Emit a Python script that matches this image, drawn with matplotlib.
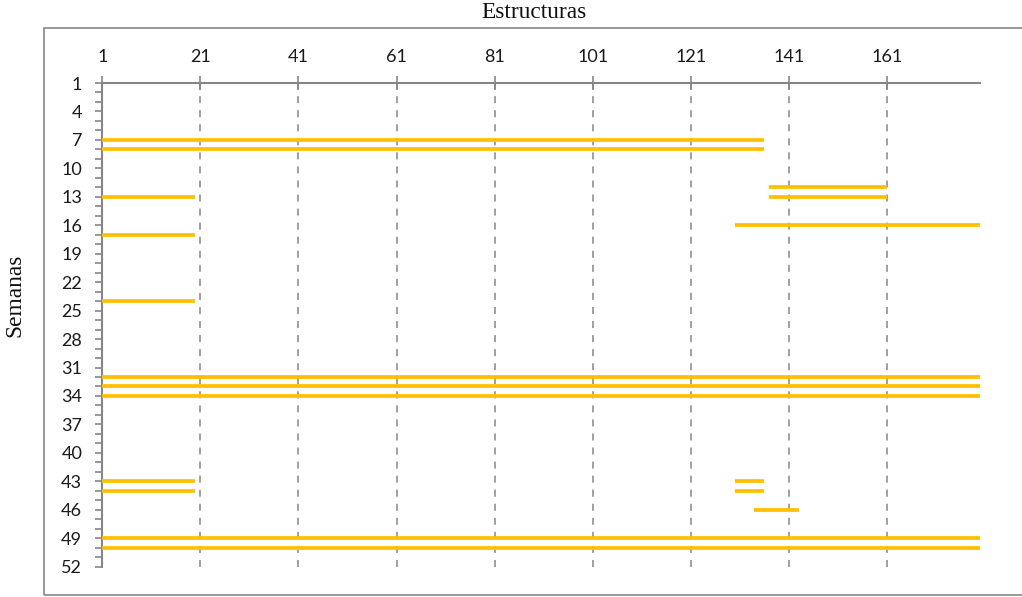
import matplotlib
matplotlib.use("Agg")
import matplotlib.pyplot as plt
from matplotlib.patches import Rectangle

# Activity segments: week, first structure, last structure
weeks  = [7, 8, 12, 13, 13, 16, 17, 24, 32, 33, 34, 43, 43, 44, 44, 46, 49, 50]
starts = [1, 1, 137, 1, 137, 130, 1, 1, 1, 1, 1, 1, 130, 1, 130, 134, 1, 1]
ends   = [136, 136, 161, 20, 161, 180, 20, 20, 180, 180, 180, 20, 136, 20, 136, 143, 180, 180]

x_ticks = [1, 21, 41, 61, 81, 101, 121, 141, 161]
y_ticks = list(range(1, 53, 3))

W, H = 1022, 597
fig = plt.figure(figsize=(W / 100, H / 100), dpi=100)

left, right = 102.3 / W, 980 / W
top, bottom = 1 - 83.0 / H, 1 - 566.7 / H
ax = fig.add_axes([left, bottom, right - left, top - bottom])

grey = "#868686"
gold = "#FFC000"

ax.hlines(weeks, starts, ends, colors=gold, linewidth=2.7, capstyle="butt", zorder=3)

ax.set_xlim(1, 180)
ax.set_ylim(52, 1)

ax.xaxis.tick_top()
ax.set_xticks(x_ticks)
ax.set_yticks(y_ticks)
ax.set_yticks(range(1, 53), minor=True)

for x in x_ticks[1:]:
    ax.axvline(x, color=grey, linewidth=1.1, linestyle=(0, (4.6, 4.6)), zorder=1)

for s in ["bottom", "right"]:
    ax.spines[s].set_visible(False)
for s in ["top", "left"]:
    ax.spines[s].set_color(grey)
    ax.spines[s].set_linewidth(1.5)

ax.tick_params(axis="x", which="major", direction="inout", length=9.5, width=1.2,
               color=grey, pad=8, labelsize=13)
ax.tick_params(axis="y", which="both", direction="out", length=5, width=1.2,
               color=grey, pad=9.5, labelsize=13)
for lbl in ax.get_xticklabels() + ax.get_yticklabels():
    lbl.set_fontfamily("Lato")
    lbl.set_color("#1a1a1a")

serif = ["Liberation Serif", "DejaVu Serif"]
fig.text(534 / W, 1 - 17.5 / H, "Estructuras", ha="center", va="baseline",
         family=serif, fontsize=16.8, color="#111111")
fig.text(20.5 / W, 1 - 295 / H, "Semanas", ha="center", va="baseline",
         rotation=90, rotation_mode="anchor", family=serif, fontsize=16.8,
         color="#111111")

fig.patches.append(Rectangle((44 / W, 1 - 595 / H), (1030 - 44) / W, (595 - 27.5) / H,
                             transform=fig.transFigure, fill=False,
                             edgecolor=grey, linewidth=1.2))

fig.savefig("out.png", dpi=100)
